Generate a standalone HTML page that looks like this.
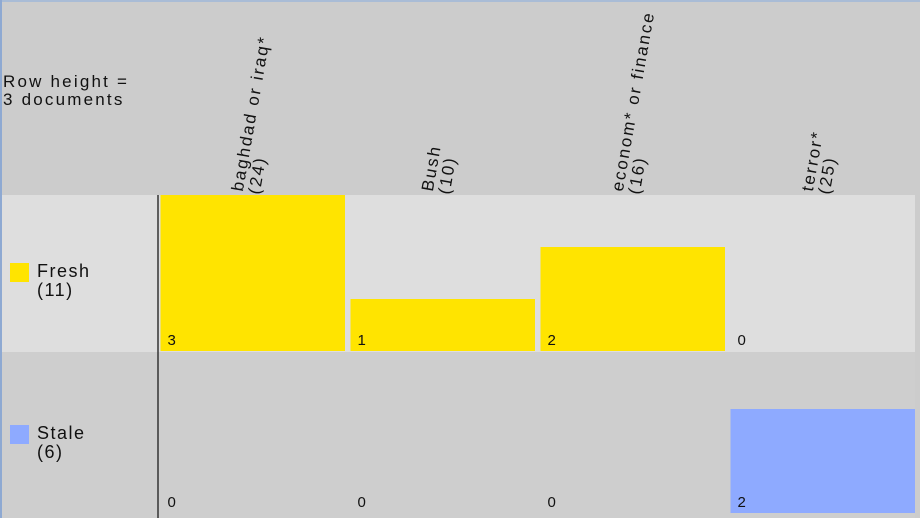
<!DOCTYPE html>
<html><head><meta charset="utf-8"><style>
html,body{margin:0;padding:0;background:#cccccc;}
svg{display:block;font-family:"Liberation Sans",Arial,sans-serif;}
</style></head><body>
<svg id="chart" width="920" height="518">
<rect x="0" y="0" width="920" height="518" fill="#cccccc"/>
<rect x="0" y="0" width="920" height="2" fill="#a9bcd6"/>
<rect x="0" y="0" width="2" height="518" fill="#8ea9d2"/>
<text x="3" y="87" font-size="17" letter-spacing="2.2" fill="#111"><tspan x="3">Row height =</tspan><tspan x="3" dy="18">3 documents</tspan></text>
<g id="rows"></g>
<g id="cols"></g>
<g id="bars"></g>
<line x1="158" y1="195" x2="158" y2="518" stroke="#333" stroke-width="1.5"/>
</svg>
<script>
const categories = ["baghdad or iraq*", "Bush", "econom* or finance", "terror*"];
const categoryCounts = [24, 10, 16, 25];
const seriesNames = ["Fresh", "Stale"];
const seriesTotals = [11, 6];
const freshValues = [3, 1, 2, 0];
const staleValues = [0, 0, 0, 2];
const rowHeightDocs = 3;

const NS = "http://www.w3.org/2000/svg";
const gRows = document.getElementById('rows'), gCols = document.getElementById('cols'), gBars = document.getElementById('bars');
const colors = ["#ffe400", "#8eaaff"];
const rowBg = ["#dedede", "#cecece"];
const rowTop = [195, 352], rowBase = [351, 513];
const pxPerDoc = 156 / rowHeightDocs;
const colX = i => 160.5 + i * 190;
const colW = 184.5;
const yScale = (r, v) => rowBase[r] - v * pxPerDoc;
function mk(tag, attrs, parent){const e=document.createElementNS(NS,tag);for(const k in attrs)e.setAttribute(k,attrs[k]);parent.appendChild(e);return e;}

[freshValues, staleValues].forEach((vals, r) => {
  const band = mk('rect', {x:2, y:rowTop[r], width:913, height:(r===0?157:166), fill:rowBg[r]}, gRows);
  
  
  const sw = mk('rect', {x:10, y:(r===0?263:425), width:19, height:19, fill:colors[r]}, gRows);
  
  
  const t = mk('text', {x:37, y:(r===0?277:439), 'font-size':18, 'letter-spacing':1.5, fill:'#111'}, gRows);
  
  
  const a = mk('tspan', {x:37}, t); a.textContent = seriesNames[r];
  const b = mk('tspan', {x:37, dy:19}, t); b.textContent = '(' + seriesTotals[r] + ')';
  vals.forEach((v, i) => {
    if (v > 0) {
      const bar = mk('rect', {x:colX(i), y:yScale(r, v), width:colW, height:rowBase[r]-yScale(r, v), fill:colors[r]}, gBars);
      
      
    }
    const lab = mk('text', {x:colX(i)+7, y:rowBase[r]-6, 'font-size':15, fill:'#111'}, gBars);
    
    
    lab.textContent = v;
  });
});

categories.forEach((c, i) => {
  const cx = colX(i) + colW/2 - 10;
  const t = mk('text', {transform:'translate(' + cx + ',192) rotate(-80)', 'font-size':17, 'letter-spacing':2, fill:'#111'}, gCols);
  
  
  const a = mk('tspan', {x:0, y:0}, t); a.textContent = c;
  const b = mk('tspan', {x:0, dy:17}, t); b.textContent = '(' + categoryCounts[i] + ')';
});
</script>
</body></html>
